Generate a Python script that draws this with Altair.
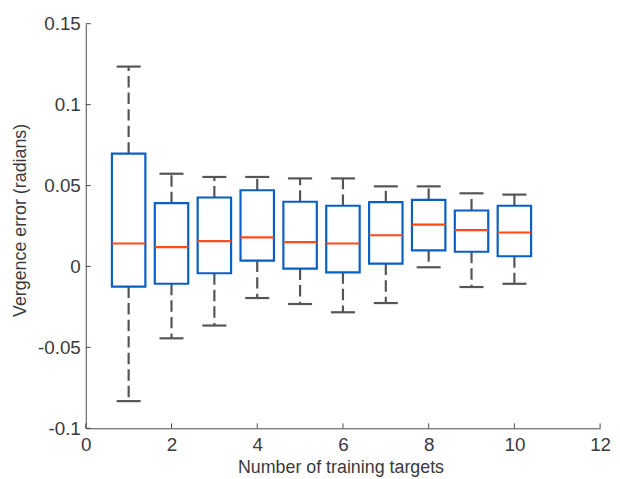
import altair as alt
import pandas as pd

# ---- data ----
n_targets = [1, 2, 3, 4, 5, 6, 7, 8, 9, 10]
upper_whisker = [0.1235, 0.0573, 0.0553, 0.0553, 0.0544, 0.0544, 0.0495, 0.0495, 0.0452, 0.0444]
q3 = [0.0697, 0.0391, 0.0426, 0.0471, 0.0400, 0.0375, 0.0397, 0.0412, 0.0346, 0.0375]
median = [0.0142, 0.0120, 0.0157, 0.0180, 0.0150, 0.0142, 0.0193, 0.0259, 0.0224, 0.0210]
q1 = [-0.0124, -0.0107, -0.0042, 0.0036, -0.0013, -0.0036, 0.0017, 0.0099, 0.0091, 0.0063]
lower_whisker = [-0.0832, -0.0444, -0.0365, -0.0195, -0.0232, -0.0283, -0.0226, -0.0005, -0.0127, -0.0107]

x_ticks = [0, 2, 4, 6, 8, 10, 12]
y_ticks = [-0.1, -0.05, 0, 0.05, 0.1, 0.15]

df = pd.DataFrame({
    "n": n_targets, "hi": upper_whisker, "q3": q3, "med": median,
    "q1": q1, "lo": lower_whisker,
})
xt = pd.DataFrame({"t": x_ticks})
yt = pd.DataFrame({"t": y_ticks})

FONT = "Liberation Sans"
TXT = "#3a3a3a"
AX = "#4a4a4a"
BLUE = "#0A5FC4"
MED = "#FF4A1A"
WH = "#555555"

xscale = alt.Scale(domain=[0, 12], nice=False, zero=False)
yscale = alt.Scale(domain=[-0.1, 0.15], nice=False, zero=False)

x_axis = alt.Axis(values=x_ticks, title="Number of training targets")
y_axis = alt.Axis(values=y_ticks, title="Vergence error (radians)",
                  labelExpr="'' + round(datum.value * 100) / 100")

base = alt.Chart(df).transform_calculate(
    bl="datum.n - 0.39", br="datum.n + 0.39",
    cl="datum.n - 0.28", cr="datum.n + 0.28",
)

X = lambda f: alt.X(f, scale=xscale, axis=x_axis)
Y = lambda f: alt.Y(f, scale=yscale, axis=y_axis)

DASH = [11.5, 5.2]

whisk_up = base.mark_rule(color=WH, strokeWidth=2.2, strokeDash=DASH).encode(
    x=X("n:Q"), y=Y("q3:Q"), y2="hi:Q",
)
whisk_lo = base.mark_rule(color=WH, strokeWidth=2.2, strokeDash=DASH).encode(
    x=X("n:Q"), y=Y("q1:Q"), y2="lo:Q",
)
cap_hi = base.mark_rule(color=WH, strokeWidth=2.2).encode(
    x=X("cl:Q"), x2="cr:Q", y=Y("hi:Q"),
)
cap_lo = base.mark_rule(color=WH, strokeWidth=2.2).encode(
    x=X("cl:Q"), x2="cr:Q", y=Y("lo:Q"),
)
box = base.mark_rect(fillOpacity=0, stroke=BLUE, strokeWidth=2.2).encode(
    x=X("bl:Q"), x2="br:Q", y=Y("q1:Q"), y2="q3:Q",
)
med = base.mark_rule(color=MED, strokeWidth=2.2).encode(
    x=X("bl:Q"), x2="br:Q", y=Y("med:Q"),
)
xtick = alt.Chart(xt).mark_rule(color=AX, strokeWidth=1).encode(
    x=X("t:Q"), y=alt.value(408.3), y2=alt.value(403.3),
)
ytick = alt.Chart(yt).mark_rule(color=AX, strokeWidth=1).encode(
    y=Y("t:Q"), x=alt.value(0), x2=alt.value(5),
)

chart = alt.layer(
    whisk_up, whisk_lo, cap_hi, cap_lo, box, med, xtick, ytick
).properties(
    width=519, height=408.3,
    autosize=alt.AutoSizeParams(type="none"),
    padding={"left": 78.5, "top": 13.7, "right": 12, "bottom": 48},
    background="white",
).configure_view(
    stroke=None
).configure_axis(
    ticks=False, tickSize=0, grid=False, labelFlush=False,
    labelFont=FONT, labelFontSize=19, labelColor=TXT,
    domainColor=AX, domainWidth=1,
    titleFont=FONT, titleFontSize=18, titleFontWeight="normal", titleColor=TXT,
    titleAlign="center", titleBaseline="alphabetic",
).configure_axisX(
    labelBaseline="alphabetic", labelPadding=22, titleX=257, titleY=45,
).configure_axisY(
    labelPadding=5.5, titleAngle=270, titleX=-60.5, titleY=198,
)

chart.save("out.html", embed_options={"renderer": "svg", "actions": False})
